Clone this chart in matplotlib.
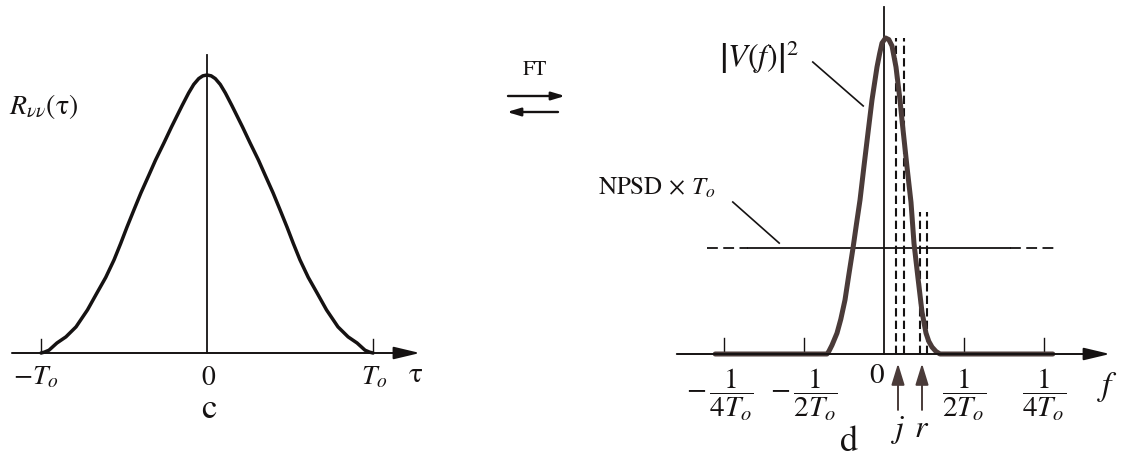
import matplotlib
matplotlib.use("Agg")
import matplotlib.pyplot as plt

plt.rcParams["mathtext.fontset"] = "stix"
plt.rcParams["font.family"] = ["STIXGeneral", "DejaVu Serif"]

# ---- panel c: autocorrelation R_vv(tau), tau in units of T_o ----
tau = [-1.0, -0.98, -0.952, -0.904, -0.85, -0.789, -0.72, -0.663, -0.61,
       -0.56, -0.52, -0.482, -0.44, -0.398, -0.35, -0.31, -0.26, -0.214,
       -0.15, -0.111, -0.08, -0.05, -0.025, 0.0, 0.025, 0.05, 0.08, 0.111,
       0.15, 0.214, 0.26, 0.31, 0.35, 0.398, 0.44, 0.482, 0.52, 0.56, 0.61,
       0.663, 0.72, 0.789, 0.85, 0.904, 0.952, 0.98, 1.0]
r_vv = [0.0, 0.003, 0.010, 0.036, 0.058, 0.094, 0.155, 0.216, 0.272,
        0.335, 0.394, 0.453, 0.515, 0.576, 0.640, 0.694, 0.755, 0.813,
        0.890, 0.935, 0.966, 0.987, 0.997, 1.0, 0.997, 0.987, 0.966, 0.935,
        0.890, 0.813, 0.755, 0.694, 0.640, 0.576, 0.515, 0.453, 0.394, 0.335,
        0.272, 0.216, 0.155, 0.094, 0.058, 0.036, 0.010, 0.003, 0.0]
tau_ticks = [-1.0, 0.0, 1.0]
tau_labels = [r"$-T_o$", r"$0$", r"$T_o$"]

# ---- panel d: power spectrum |V(f)|^2 ----
freq = [-2.11, -0.7125, -0.69, -0.65, -0.5875, -0.54, -0.4875, -0.44,
        -0.3875, -0.345, -0.3, -0.25, -0.2, -0.15, -0.0875, -0.055, -0.025,
        0.02, 0.06, 0.1, 0.15, 0.2, 0.225, 0.2875, 0.3375, 0.375, 0.425,
        0.475, 0.525, 0.56, 0.6, 0.65, 0.7, 2.11]
v_sq = [0.0, 0.0, 0.008, 0.028, 0.066, 0.110, 0.171, 0.250,
        0.335, 0.410, 0.487, 0.595, 0.700, 0.804, 0.908, 0.950, 0.984,
        1.0, 0.995, 0.975, 0.908, 0.804, 0.740, 0.592, 0.480, 0.350, 0.240,
        0.133, 0.066, 0.040, 0.022, 0.008, 0.0, 0.0]
f_ticks = [-2.0, -1.0, 1.0, 2.0]
f_labels = [r"$-\,\dfrac{1}{4T_o}$", r"$-\,\dfrac{1}{2T_o}$",
            r"$\dfrac{1}{2T_o}$", r"$\dfrac{1}{4T_o}$"]
npsd_level = 0.335
j_band = [0.156, 0.256]
j_top = 1.0
r_band = [0.444, 0.54]
r_top = 0.449
marker_pos = {"j": 0.175, "r": 0.475}

W, H = 1127, 459
fig = plt.figure(figsize=(W / 100, H / 100), dpi=100)
fig.patch.set_facecolor("white")

ink = "#151212"
brown = "#4a3b39"

# ---------------- panel c ----------------
axc = fig.add_axes([0, 0, 470 / W, 1])
axc.set_xlim((0 - 207) / 166, (470 - 207) / 166)
axc.set_ylim((353 - 459) / 278, 353 / 278)
axc.axis("off")

axc.annotate("", xy=(1.283, 0), xytext=(-1.175, 0),
             arrowprops=dict(arrowstyle="-|>,head_length=1.6,head_width=0.38",
                             lw=1.4, color=ink, shrinkA=0, shrinkB=0))
axc.plot([0, 0], [0, 1.072], color=ink, lw=1.3)
for t in tau_ticks:
    if t != 0:
        axc.plot([t, t], [0, 0.05], color=ink, lw=1.0)
axc.plot(tau, r_vv, color=ink, lw=2.5, solid_joinstyle="round",
         solid_capstyle="round")

tick_x = {-1.0: -1.03, 0.0: 0.01, 1.0: 1.01}
for t, lab in zip(tau_ticks, tau_labels):
    axc.text(tick_x[t], -0.09, lab, ha="center", va="center", fontsize=20,
             color=ink)
axc.text(1.26, -0.079, "τ", ha="center", va="center", fontsize=21, color=ink)
axc.text(-1.195, 0.888, r"$R_{\nu\nu}$(τ)", ha="left", va="center",
         fontsize=20, color=ink)
axc.text(0.01, -0.205, "c", ha="center", va="center", fontsize=25, color=ink)

# ---------------- FT pair ----------------
fig.text(535 / W, 1 - 70 / H, "FT", ha="center", va="center", fontsize=15,
         color=ink)
fig.add_artist(matplotlib.patches.FancyArrowPatch(
    (508 / W, 1 - 96 / H), (565 / W, 1 - 96 / H), transform=fig.transFigure,
    arrowstyle="-|>,head_length=8,head_width=2.4", lw=1.7, color=ink,
    shrinkA=0, shrinkB=0))
fig.add_artist(matplotlib.patches.FancyArrowPatch(
    (558 / W, 1 - 112 / H), (507 / W, 1 - 112 / H), transform=fig.transFigure,
    arrowstyle="-|>,head_length=8,head_width=2.4", lw=1.7, color=ink,
    shrinkA=0, shrinkB=0))

# ---------------- panel d ----------------
axd = fig.add_axes([560 / W, 0, (W - 560) / W, 1])
axd.set_xlim((560 - 884) / 80, (W - 884) / 80)
axd.set_ylim((354 - 459) / 316, 354 / 316)
axd.axis("off")

axd.annotate("", xy=(2.825, 0), xytext=(-2.59, 0),
             arrowprops=dict(arrowstyle="-|>,head_length=1.6,head_width=0.38",
                             lw=1.4, color=ink, shrinkA=0, shrinkB=0))
axd.plot([0, 0], [0, 1.098], color=ink, lw=1.3)
for t in f_ticks:
    axd.plot([t, t], [0, 0.052], color=ink, lw=1.0)

# noise floor line
axd.plot([-2.21, -1.7], [npsd_level] * 2, color=ink, lw=1.3, dashes=(6, 3))
axd.plot([-1.7, 1.57], [npsd_level] * 2, color=ink, lw=1.3)
axd.plot([1.57, 2.16], [npsd_level] * 2, color=ink, lw=1.3, dashes=(6, 3))

# dashed markers for j and r
for x in j_band:
    axd.plot([x, x], [0, j_top], color=ink, lw=1.5, dashes=(4, 2))
for x in r_band:
    axd.plot([x, x], [0, r_top], color=ink, lw=1.5, dashes=(4, 2))

axd.plot(freq, v_sq, color=brown, lw=3.6, solid_joinstyle="round",
         solid_capstyle="round")

for t, lab in zip(f_ticks, f_labels):
    xo = -0.05 if t == -2.0 else 0.0
    axd.text(t + xo, -0.13, lab, ha="center", va="center", fontsize=21,
             color=ink)
axd.text(-0.005, -0.07, "0", ha="right", va="center", fontsize=21, color=ink)
axd.text(2.8, -0.105, r"$f$", ha="center", va="center", fontsize=24,
         color=ink)

for name, x in marker_pos.items():
    axd.annotate("", xy=(x, -0.03), xytext=(x, -0.177),
                 arrowprops=dict(arrowstyle="-|>,head_length=1.3,head_width=0.4",
                                 lw=1.4, color=brown, shrinkA=0, shrinkB=0))
    axd.text(x, -0.263, r"$%s$" % name, ha="center", va="baseline",
             fontsize=23, color=ink)

axd.text(-0.44, -0.28, "d", ha="center", va="center", fontsize=26, color=ink)

axd.text(-1.56, 0.94, r"$\left|V(f)\right|^2$", ha="center", va="center",
         fontsize=23, color=ink)
axd.plot([-0.89, -0.26], [0.924, 0.785], color=ink, lw=1.2)

axd.text(-2.84, 0.522, r"NPSD$\,\times\,T_o$", ha="center", va="center",
         fontsize=18, color=ink)
axd.plot([-1.89, -1.31], [0.481, 0.351], color=ink, lw=1.2)

fig.savefig("out.png", dpi=100, facecolor="white")
